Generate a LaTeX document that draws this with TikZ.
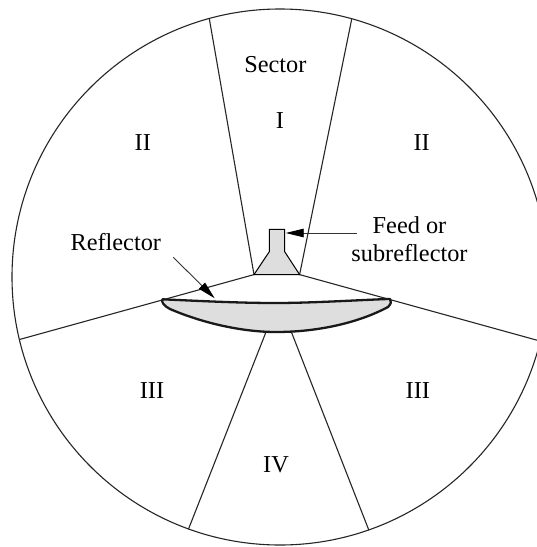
\documentclass[tikz,border=0pt]{standalone}
\usepackage{fontspec}
\setmainfont{Liberation Serif}
\usetikzlibrary{arrows.meta}
\definecolor{shade}{HTML}{DEDEDE}
\tikzset{
  wire/.style={line width=1.1pt,black!85},
  label/.style={inner sep=0pt,align=center,font=\fontsize{24.3}{28.6}\selectfont},
  pointer/.style={line width=0.9pt,black!80,-{Triangle[length=18pt,width=8.5pt,color=black]}},
  heavy/.style={line width=2.3pt,line join=round,fill=shade,draw=black!90},
  horn/.style={line width=1pt,fill=shade,line join=miter}
}
\begin{document}
\begin{tikzpicture}[x=1pt,y=-1pt]
\useasboundingbox (0,0) rectangle (537,547);
\clip (0,0) rectangle (537,547);
\fill[white] (0,0) rectangle (537,547);
\coordinate (c) at (280,277);
\coordinate (tl) at (209.2,18.1);
\coordinate (tr) at (351.7,19.2);
\coordinate (l) at (19.5,339.5);
\coordinate (r) at (537,340.2);
\coordinate (bl) at (188.4,529.3);
\coordinate (br) at (368.8,530);
\coordinate (hl) at (254,274.6);
\coordinate (hr) at (299.6,274.6);
\coordinate (rb1) at (266.4,331);
\coordinate (rb2) at (291,331);
\draw[wire] (c) circle [radius=268];
\draw[wire] (tl) -- (hl) -- (l);
\draw[wire] (tr) -- (hr) -- (r);
\draw[wire] (bl) -- (rb1);
\draw[wire] (br) -- (rb2);
\draw[horn] (hl) -- (269.3,251.7) -- (269.3,229.3) -- (284.7,229.3) -- (284.7,251.7) -- (hr) -- cycle;
\draw[heavy] (162.5,299.3) .. controls (200,301) and (240,303) .. (275,303)
  .. controls (310,303) and (350,300.5) .. (390,298.9)
  .. controls (392,301) and (391,304) .. (388,307)
  .. controls (360,322) and (320,332) .. (276,332)
  .. controls (240,332) and (200,322) .. (170,309)
  .. controls (164,306) and (161,302) .. (162.5,299.3) -- cycle;
\coordinate (ra) at (173.3,257.3);
\coordinate (rt) at (214.7,298.3);
\coordinate (fa) at (356.7,233);
\coordinate (ft) at (285.7,233);
\draw[pointer] (ra) -- (rt);
\draw[pointer] (fa) -- (ft);
\node[label] (sector) at (275.3,64.5) {Sector};
\node[label] (one) at (279.8,121) {I};
\node[label] (twoL) at (142.8,143) {II};
\node[label] (twoR) at (421.6,143) {II};
\node[label] (refl) at (115.8,241.8) {Reflector};
\node[label] (feed) at (409.5,239) {Feed or\\subreflector};
\node[label] (threeL) at (152,390.4) {III};
\node[label] (threeR) at (417.8,390.4) {III};
\node[label] (four) at (276,464.8) {IV};
\end{tikzpicture}
\end{document}
